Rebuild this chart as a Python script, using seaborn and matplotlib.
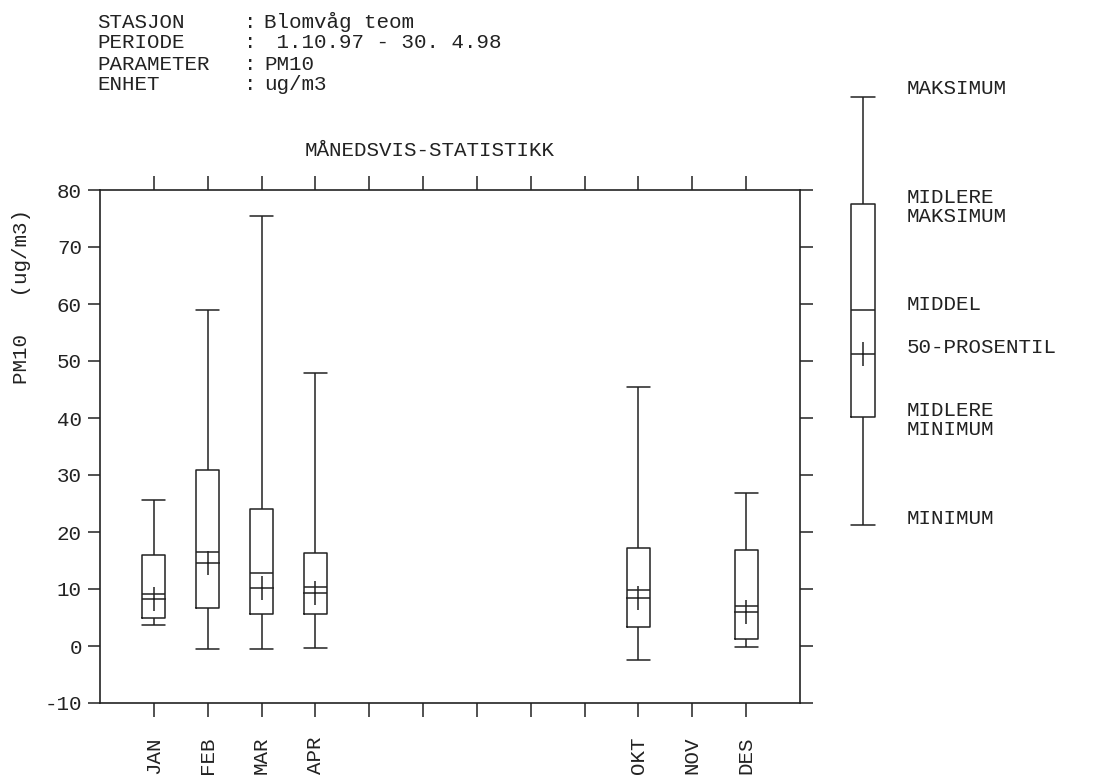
import numpy as np
import pandas as pd
import matplotlib
matplotlib.use("Agg")
import matplotlib.pyplot as plt
import seaborn as sns

# monthly statistics (PM10, ug/m3)
months = [1, 2, 3, 4, 10, 12]
minimum = [3.6, -0.6, -0.6, -0.4, -2.4, -0.2]
mean_min = [5.0, 6.7, 5.7, 5.6, 3.4, 1.3]
mean = [9.2, 16.5, 12.8, 10.4, 9.8, 7.1]
mean_max = [16.0, 30.9, 24.1, 16.3, 17.2, 16.8]
maximum = [25.6, 58.9, 75.4, 47.9, 45.4, 26.8]
median = [8.3, 14.6, 10.2, 9.3, 8.4, 5.9]

month_labels = ["JAN", "FEB", "MAR", "APR", "", "", "", "", "", "OKT", "NOV", "DES"]

# explanatory box on the right
key_stats = [21.3, 40.1, 58.9, 77.5, 96.3]  # min, mid-min, mean, mid-max, max
key_median = 51.3

header = [("STASJON", "Blomvåg teom"),
          ("PERIODE", " 1.10.97 - 30. 4.98"),
          ("PARAMETER", "PM10"),
          ("ENHET", "ug/m3")]


def long_table(xs, cols):
    # five values per group -> quartiles of the group are exactly box ends / line
    rows = []
    for i, x in enumerate(xs):
        for c in cols:
            rows.append({"x": x, "v": c[i]})
    return pd.DataFrame(rows)


sns.set_theme(style="ticks")
plt.rcParams["font.family"] = ["Liberation Mono", "DejaVu Sans Mono"]
plt.rcParams["text.color"] = "#222222"

W, H = 1105, 783
fig = plt.figure(figsize=(W / 100, H / 100), dpi=100)

# main axes, pixel frame 100..800 x 190..703
ax = fig.add_axes([100 / W, (H - 703) / H, 700 / W, (703 - 190) / H])
df = long_table(months, [minimum, mean_min, mean, mean_max, maximum])
box_kw = dict(whis=(0, 100), width=0.43, fill=False, color="#222222",
              linecolor="#222222", linewidth=1.1, showfliers=False,
              capwidths=0.43)
sns.boxplot(data=df, x="x", y="v", native_scale=True, ax=ax, **box_kw)
sns.scatterplot(x=months, y=median, marker="+", s=280, color="#222222",
                linewidth=1.1, ax=ax, zorder=5)

ax.set_xlim(0, 13)
ax.set_ylim(-10, 80)
ax.set_xticks(range(1, 13))
ax.set_xticklabels(month_labels, rotation=90, fontsize=15)
ax.set_yticks(range(-10, 81, 10))
ax.set_yticklabels([str(t) for t in range(-10, 81, 10)], fontsize=15)
ax.tick_params(axis="x", direction="out", length=10, width=1.1, pad=14,
               top=True, bottom=True, colors="#222222")
ax.tick_params(axis="y", direction="out", length=9, width=1.1, pad=4,
               left=True, right=True, colors="#222222")
for s in ax.spines.values():
    s.set_visible(True)
    s.set_linewidth(1.2)
    s.set_color("#222222")
ax.set_xlabel("")
ax.set_ylabel("")

# key axes, same vertical scale as the main axes
top_px = 60
k_top = -10 + 90 * (703 - top_px) / (703 - 190)
kax = fig.add_axes([836 / W, (H - 703) / H, 54 / W, (703 - top_px) / H])
kdf = long_table([0], [[v] for v in key_stats])
sns.boxplot(data=kdf, x="x", y="v", native_scale=True, ax=kax, **box_kw)
sns.scatterplot(x=[0], y=[key_median], marker="+", s=280, color="#222222",
                linewidth=1.1, ax=kax, zorder=5)
kax.set_xlim(-0.5, 0.5)
kax.set_ylim(-10, k_top)
kax.axis("off")

# texts
def px_text(x, y, s, **kw):
    fig.text(x / W, 1 - y / H, s, **kw)

for i, (lab, val) in enumerate(header):
    y = 22 + i * 21
    px_text(97, y, lab, fontsize=15, va="center")
    px_text(244, y, ":", fontsize=15, va="center")
    px_text(264, y, val, fontsize=15, va="center")

px_text(430, 151, "MÅNEDSVIS-STATISTIKK", fontsize=15, ha="center", va="center")
px_text(22, 297, "PM10   (ug/m3)", fontsize=15, rotation=90, ha="center", va="center")

key_labels = [(89, "MAKSIMUM"), (207, "MIDLERE\nMAKSIMUM"), (304, "MIDDEL"),
              (347, "50-PROSENTIL"), (420, "MIDLERE\nMINIMUM"), (518, "MINIMUM")]
for y, s in key_labels:
    px_text(907, y, s, fontsize=15, va="center", linespacing=1.05)

fig.savefig("out.png", dpi=100, facecolor="white")
